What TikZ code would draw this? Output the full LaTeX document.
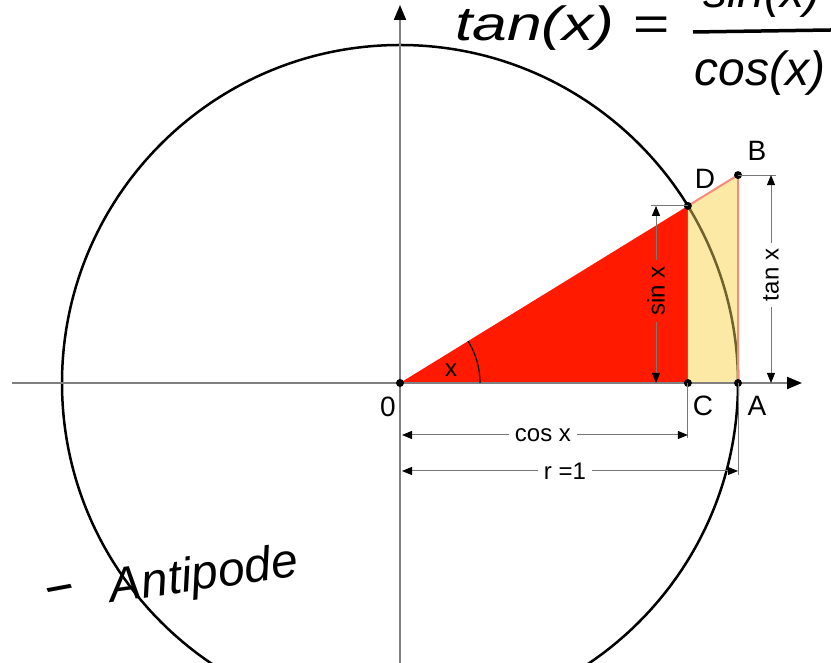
\documentclass[tikz,border=0pt]{standalone}
\usepackage{fontspec}
\setmainfont{Liberation Sans}
\usetikzlibrary{arrows.meta,calc}
\definecolor{redfill}{RGB}{255,26,0}
\definecolor{yellowfill}{RGB}{253,233,166}
\definecolor{salmon}{RGB}{244,140,120}
\definecolor{olivearc}{RGB}{110,98,45}
\definecolor{axisgray}{RGB}{128,128,128}
\definecolor{dimgray}{RGB}{120,120,120}
\tikzset{
  axisline/.style={draw=axisgray, line width=2pt, -{Triangle[length=15pt,width=12pt,color=black]}},
  dimline/.style={draw=dimgray, line width=1pt, -{Triangle[length=10pt,width=8pt,color=black]}},
  extline/.style={draw=dimgray, line width=1pt},
  pt/.style={circle, fill=black, inner sep=0pt, minimum size=8pt},
  lbl/.style={font=\fontsize{28}{32}\selectfont, inner sep=0pt},
  dimlbl/.style={font=\fontsize{24}{28}\selectfont, inner sep=6pt},
  hand/.style={font=\fontsize{48}{56}\selectfont\itshape, inner sep=0pt}
}
\begin{document}
\begin{tikzpicture}[x=1pt,y=1pt]
\useasboundingbox (0,0) rectangle (831,663);
\clip (0,0) rectangle (831,663);
\def\ang{31.6}
\def\R{338}
\coordinate (O) at (400,280);
\coordinate (A) at ($(O)+(\R,0)$);
\coordinate (D) at ($(O)+(\ang:\R)$);
\coordinate (C) at (D |- O);
\coordinate (B) at ($(O)+(\R,{\R*tan(\ang)})$);
% circle
\draw[line width=2.5pt] (O) circle (\R);
% fills
\fill[redfill] (O) -- (D) -- (C) -- cycle;
\fill[yellowfill] (C) -- (D) -- (B) -- (A) -- cycle;
\draw[olivearc, line width=2.5pt] (D) arc (\ang:0:\R);
\draw[salmon, line width=2pt] (D) -- (B) -- (A);
% axes
\coordinate (xl) at (12,280);
\coordinate (xr) at (802,280);
\coordinate (yb) at (400,0);
\coordinate (yt) at (400,658);
\draw[axisline] (xl) -- (xr);
\draw[axisline] (yb) -- (yt);
% angle
\coordinate (a0) at ($(O)+(80,0)$);
\draw[line width=1.2pt] (a0) arc (0:\ang:80);
\node[dimlbl, inner sep=0pt] (xlab) at (451,293) {x};
% points
\node[pt] (pO) at (O) {};
\node[pt] (pC) at (C) {};
\node[pt] (pA) at (A) {};
\node[pt] (pD) at (D) {};
\node[pt] (pB) at (B) {};
\node[lbl] (lO) at (388,256) {0};
\node[lbl] (lC) at (703,257) {C};
\node[lbl] (lA) at (757,257) {A};
\node[lbl] (lD) at (705,484) {D};
\node[lbl] (lB) at (757,512) {B};
% sin x
\node[dimlbl, rotate=90] (sinlab) at (656,372) {sin x};
\draw[extline] ($(sinlab.east |- D)+(-5,0)$) -- (D);
\draw[dimline] (sinlab.east) -- (sinlab.east |- D);
\draw[dimline] (sinlab.west) -- (sinlab.west |- O);
% tan x
\node[dimlbl, rotate=90] (tanlab) at (771,388) {tan x};
\draw[extline] (B) -- ($(tanlab.east |- B)+(5,0)$);
\draw[dimline] (tanlab.east) -- (tanlab.east |- B);
\draw[dimline] (tanlab.west) -- (tanlab.west |- O);
% cos x
\coordinate (cosL) at (402,228);
\node[dimlbl] (coslab) at (543,228) {cos x};
\coordinate (cosE) at ($(C)+(0,-55)$);
\draw[extline] (C) -- (cosE);
\draw[dimline] (coslab.west) -- (cosL);
\draw[dimline] (coslab.east) -- (cosL -| C);
% r = 1
\coordinate (rL) at (402,192);
\node[dimlbl] (rlab) at (565,192) {r =1};
\coordinate (rE) at ($(A)+(0,-92)$);
\draw[extline] (A) -- (rE);
\draw[dimline] (rlab.west) -- (rL);
\draw[dimline] (rlab.east) -- (rL -| A);
% handwriting
\node[hand, xscale=1.3, anchor=base west] (tanx) at (455,622) {tan(x) =};
\node[hand] (num) at (762,668) {sin(x)};
\coordinate (barL) at (693,631);
\coordinate (barR) at (831,633);
\draw[line width=3.5pt] (barL) -- (barR);
\node[hand] (den) at (760,590) {cos(x)};
\node[hand, xscale=2.2, rotate=22] (dash) at (63,69) {-};
\node[hand, rotate=8] (anti) at (204,86) {Antipode};
\end{tikzpicture}
\end{document}
